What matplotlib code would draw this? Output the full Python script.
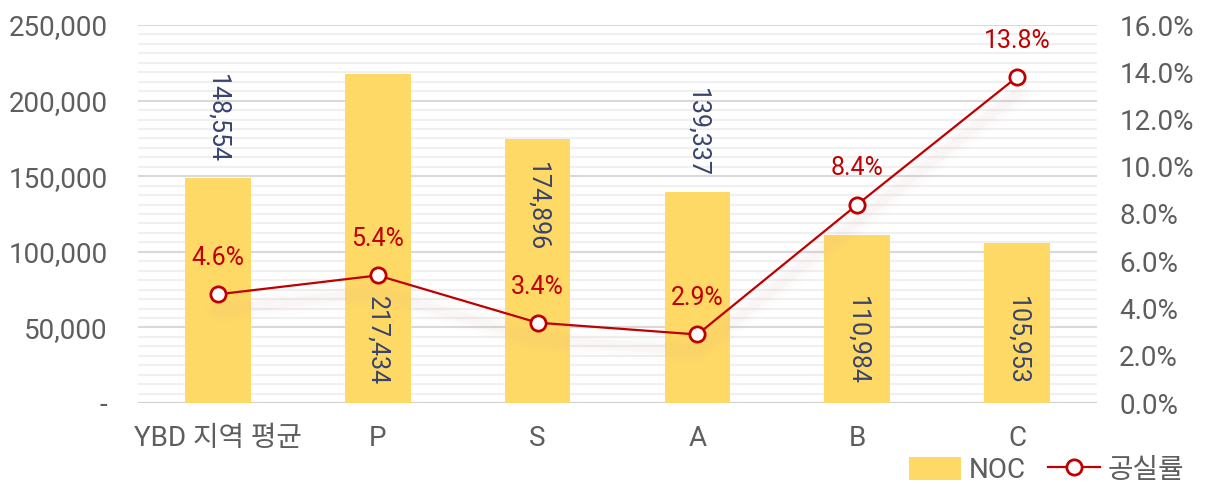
import numpy as np
import matplotlib.pyplot as plt
import matplotlib.transforms as mtransforms
from matplotlib.ticker import MultipleLocator, FuncFormatter

plt.rcParams['font.family'] = ['Roboto', 'Noto Sans CJK KR', 'DejaVu Sans']

categories = ['YBD 지역 평균', 'P', 'S', 'A', 'B', 'C']
noc = [148554, 217434, 174896, 139337, 110984, 105953]
vacancy = [4.6, 5.4, 3.4, 2.9, 8.4, 13.8]
# where each bar value label sits: above the bar, inside near top, inside near base
label_pos = ['above', 'base', 'top', 'above', 'base', 'base']

bar_color = '#FFD966'
line_color = '#C00000'
tick_color = '#5E5E5E'

fig = plt.figure(figsize=(12.07, 4.84), dpi=100)
ax = fig.add_axes([138 / 1207, 81 / 484, 959 / 1207, 378 / 484])
ax2 = ax.twinx()

x = np.arange(len(categories))
ax.bar(x, noc, width=0.41, color=bar_color, zorder=2, label='NOC')

ax.set_xlim(-0.5, len(categories) - 0.5)
ax.set_ylim(0, 250000)
ax.yaxis.set_major_locator(MultipleLocator(50000))
ax.yaxis.set_minor_locator(MultipleLocator(6250))
ax.yaxis.set_major_formatter(FuncFormatter(lambda v, p: '-' if v == 0 else f'{v:,.0f}'))
ax.grid(axis='y', which='major', color='#D9D9D9', lw=1.5, zorder=0)
ax.grid(axis='y', which='minor', color='#F0F0F0', lw=1.5, zorder=0)
ax.set_axisbelow(True)
ax.set_xticks(x)
ax.set_xticklabels(categories)

for a in (ax, ax2):
    for s in a.spines.values():
        s.set_visible(False)
    a.tick_params(length=0, which='both', labelsize=20, colors=tick_color)
ax.tick_params(axis='y', pad=22)
ax.tick_params(axis='x', pad=16)
ax2.tick_params(axis='y', pad=16)
ax.axhline(0, color='#D0D0D0', lw=1.5, zorder=1)

for xi, v, pos in zip(x, noc, label_pos):
    if pos == 'above':
        y, off, va = v, 11, 'bottom'
    elif pos == 'top':
        y, off, va = v, -17, 'top'
    else:
        y, off, va = 0, 13, 'bottom'
    ax.annotate(f'{v:,}', (xi, y), xytext=(0, off), textcoords='offset points',
                rotation=270, ha='center', va=va, fontsize=18, color='#39436E',
                zorder=5)

# soft shadow under the line
for lw, al in [(18, 0.02), (12, 0.03), (7, 0.035)]:
    tr = mtransforms.offset_copy(ax2.transData, fig=fig, x=0, y=-12, units='points')
    ax2.plot(x, vacancy, color='#D8A0A0', lw=lw, alpha=al, transform=tr,
             solid_capstyle='round', zorder=1)

ax2.plot(x, vacancy, color=line_color, lw=1.6, marker='o', markersize=11,
         markerfacecolor='white', markeredgecolor=line_color, markeredgewidth=2,
         label='공실률', zorder=3)
ax2.set_ylim(0, 16)
ax2.yaxis.set_major_locator(MultipleLocator(2))
ax2.yaxis.set_major_formatter(FuncFormatter(lambda v, p: f'{v:.1f}%'))

for xi, v in zip(x, vacancy):
    ax2.annotate(f'{v}%', (xi, v), xytext=(0, 26), textcoords='offset points',
                 ha='center', va='center', fontsize=18, color=line_color, zorder=5)

h1, l1 = ax.get_legend_handles_labels()
h2, l2 = ax2.get_legend_handles_labels()
leg = fig.legend(h1 + h2, l1 + l2, loc='lower right', bbox_to_anchor=(0.997, -0.04),
                 ncol=2, frameon=False, fontsize=20, handlelength=1.9,
                 handleheight=0.9, columnspacing=0.8, handletextpad=0.25,
                 borderpad=0.2)
for t in leg.get_texts():
    t.set_color(tick_color)

fig.savefig('out.png', dpi=100)
